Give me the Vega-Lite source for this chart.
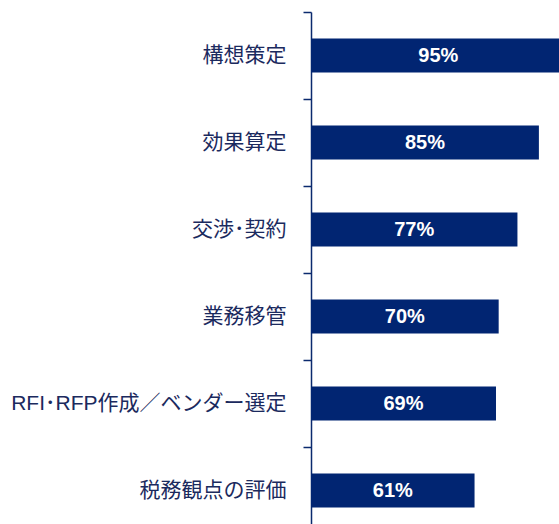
{
  "$schema": "https://vega.github.io/schema/vega-lite/v6.json",
  "autosize": "none",
  "width": 248,
  "height": 522,
  "padding": {"left": 311, "top": 12, "right": 0, "bottom": 0},
  "background": "white",
  "config": {
    "view": {"stroke": null},
    "locale": {"number": {"decimal": ".", "thousands": ",", "grouping": [3], "currency": ["", "%"]}}
  },
  "data": {"values": [
    {"item": "構想策定", "pct": 95},
    {"item": "効果算定", "pct": 85},
    {"item": "交渉･契約", "pct": 77},
    {"item": "業務移管", "pct": 70},
    {"item": "RFI･RFP作成／ベンダー選定", "pct": 69},
    {"item": "税務観点の評価", "pct": 61}
  ]},
  "encoding": {
    "y": {
      "field": "item", "type": "nominal", "sort": null, "title": null,
      "scale": {"paddingInner": 0.61, "paddingOuter": 0.305},
      "axis": {
        "ticks": true,
        "bandPosition": -0.782,
        "tickExtra": false,
        "domainColor": "#0b2a6e", "domainWidth": 1.5,
        "tickColor": "#0b2a6e", "tickWidth": 1.5, "tickSize": 8, "tickOpacity": 1,
        "labelPadding": 17, "labelFontSize": 21,
        "labelFont": "Liberation Sans, Noto Sans CJK JP",
        "labelColor": "#1b2a5e", "labelLimit": 400
      }
    }
  },
  "layer": [
    {
      "mark": {"type": "bar", "color": "#012572", "clip": true},
      "encoding": {
        "x": {"field": "pct", "type": "quantitative", "scale": {"domain": [0, 92.5], "nice": false, "zero": true}, "axis": null}
      }
    },
    {
      "mark": {"type": "text", "color": "white", "fontWeight": "bold", "fontSize": 20, "font": "Liberation Sans", "align": "center", "baseline": "middle"},
      "encoding": {
        "x": {"field": "pct", "type": "quantitative", "scale": {"domain": [0, 185], "nice": false, "zero": true}, "axis": null},
        "text": {"field": "pct", "type": "quantitative", "format": "$d"}
      }
    }
  ],
  "resolve": {"scale": {"x": "independent"}}
}
